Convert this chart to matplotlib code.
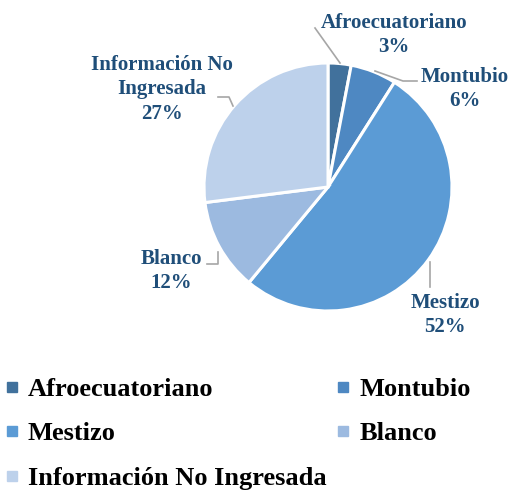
import matplotlib.pyplot as plt
from matplotlib.lines import Line2D

categories = ["Afroecuatoriano", "Montubio", "Mestizo", "Blanco", "Información No Ingresada"]
values = [3, 6, 52, 12, 27]
pct_labels = ["Afroecuatoriano\n3%", "Montubio\n6%", "Mestizo\n52%", "Blanco\n12%",
              "Información No\nIngresada\n27%"]
colors = ["#41719C", "#4E88C2", "#5B9BD5", "#9CBAE0", "#BDD1EB"]

W, H = 513, 491
plt.rcParams['font.family'] = ['Liberation Serif', 'DejaVu Serif']
plt.rcParams['font.weight'] = 'bold'

fig = plt.figure(figsize=(W / 100, H / 100), dpi=100)
ax = fig.add_axes([0, 0, 1, 1])
ax.set_xlim(0, W)
ax.set_ylim(0, H)
ax.axis('off')


def Y(y):
    return H - y


wedges, _ = ax.pie(values, startangle=90, counterclock=False,
                   center=(328, Y(187)), radius=124, colors=colors,
                   wedgeprops=dict(edgecolor='white', linewidth=2.2))
ax.set_xlim(0, W)
ax.set_ylim(0, H)
ax.set_aspect('auto')

# data labels
label_pos = [(394, 35), (465, 89), (445, 315), (171, 271), (162, 89)]
for (x, y), txt in zip(label_pos, pct_labels):
    ax.text(x, Y(y), txt, ha='center', va='center', fontsize=15,
            color='#1F4E79', fontweight='bold', linespacing=1.3)

# leader lines
leaders = [
    [(315, 28), (340, 63)],
    [(375, 71), (403, 81), (417, 81)],
    [(430, 262), (430, 287)],
    [(218, 252), (218, 264), (207, 264)],
    [(218, 97), (229, 97), (233, 106)],
]
for pts in leaders:
    ax.plot([p[0] for p in pts], [Y(p[1]) for p in pts], color='#A6A6A6', lw=1.2)

# legend (row order via column-major reorder)
order = [0, 2, 4, 1, 3]
handles = [Line2D([], [], marker='s', ls='', markersize=6.5, color=colors[i]) for i in order]
labels = [categories[i] for i in order]
fig.legend(handles, labels, loc='upper left', bbox_to_anchor=(0.0, Y(372) / H),
           ncol=2, frameon=False, fontsize=19, handlelength=0.5, handletextpad=0.35,
           columnspacing=0.4, labelspacing=0.8, borderaxespad=0, borderpad=0.2)

fig.savefig("out.png", dpi=100)
